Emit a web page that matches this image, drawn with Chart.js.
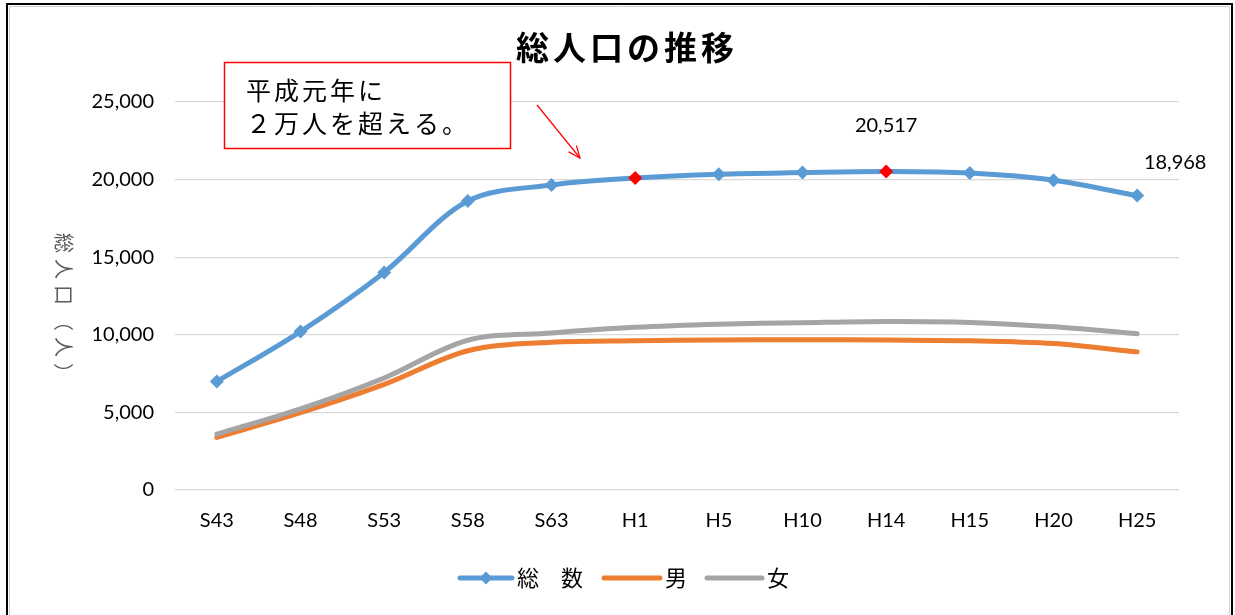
<!DOCTYPE html>
<html>
<head>
<meta charset="utf-8">
<script src="https://cdn.jsdelivr.net/npm/chart.js@4.4.1/dist/chart.umd.min.js"></script>
<style>
  html, body { margin: 0; padding: 0; background: #fff; }
  #wrap { position: relative; width: 1235px; height: 615px; }
  canvas { display: block; }
</style>
</head>
<body>
<div id="wrap"><canvas id="c" width="1235" height="615"></canvas></div>
<script>
// ---- data ----
const categories = ['S43','S48','S53','S58','S63','H1','H5','H10','H14','H15','H20','H25'];
const totalPop  = [6990, 10210, 14020, 18620, 19650, 20100, 20350, 20450, 20517, 20420, 19960, 18968];
const malePop   = [3390, 4980, 6800, 8970, 9520, 9620, 9670, 9680, 9660, 9620, 9440, 8900];
const femalePop = [3600, 5230, 7220, 9650, 10120, 10480, 10680, 10780, 10860, 10800, 10520, 10070];
const seriesNames = ['総　数', '男', '女'];
const yTicks = [0, 5000, 10000, 15000, 20000, 25000];
const highlightIdx = [5, 8];           // H1, H14 (red markers)
const labelIdx = [8, 11];              // labelled points
const titleText = '総人口の推移';
const yTitleText = '総人口（人）';
const noteLines = ['平成元年に', '２万人を超える。'];

const BLUE = '#5B9BD5', ORANGE = '#ED7D31', GRAY = '#A5A5A5', RED = '#FF0000';
const JP = '"Noto Sans CJK JP", "Noto Sans", sans-serif';
const NUM = 'Lato, "Noto Sans", sans-serif';

const fmt = v => v.toLocaleString('en-US');

const decor = {
  id: 'decor',
  afterDraw(chart) {
    const ctx = chart.ctx;
    const hasLS = ('letterSpacing' in ctx);
    ctx.save();
    // outer frame (left, top, right)
    ctx.strokeStyle = '#d0d0d0'; ctx.lineWidth = 1;
    ctx.beginPath();
    ctx.moveTo(9.5, 615); ctx.lineTo(9.5, 6.5); ctx.lineTo(1229.5, 6.5); ctx.lineTo(1229.5, 615);
    ctx.stroke();
    ctx.strokeStyle = '#000'; ctx.lineWidth = 2;
    ctx.beginPath();
    ctx.moveTo(7, 615); ctx.lineTo(7, 4); ctx.lineTo(1232, 4); ctx.lineTo(1232, 615);
    ctx.stroke();

    // title
    ctx.fillStyle = '#000';
    ctx.font = 'bold 33px ' + JP;
    ctx.textAlign = 'center'; ctx.textBaseline = 'middle';
    if (hasLS) ctx.letterSpacing = '4px';
    ctx.fillText(titleText, 627, 47);
    if (hasLS) ctx.letterSpacing = '0px';

    // y-axis title, rotated clockwise
    ctx.save();
    ctx.translate(64, 308);
    ctx.rotate(Math.PI / 2);
    ctx.fillStyle = '#595959';
    ctx.font = '20px ' + JP;
    ctx.textAlign = 'center'; ctx.textBaseline = 'middle';
    if (hasLS) ctx.letterSpacing = '6px';
    ctx.fillText(yTitleText, 3, 0);
    if (hasLS) ctx.letterSpacing = '0px';
    ctx.restore();

    // data labels
    const meta = chart.getDatasetMeta(0);
    ctx.fillStyle = '#000';
    ctx.font = '20px ' + NUM;
    ctx.textAlign = 'center'; ctx.textBaseline = 'middle';
    const offs = { 8: [0, -46], 11: [38, -33] };
    labelIdx.forEach(i => {
      const p = meta.data[i];
      const o = offs[i];
      ctx.fillText(fmt(totalPop[i]), p.x + o[0], p.y + o[1]);
    });

    // annotation box
    ctx.fillStyle = '#fff';
    ctx.fillRect(224, 62, 286, 86);
    ctx.strokeStyle = RED; ctx.lineWidth = 1.5;
    ctx.strokeRect(224.5, 62.5, 286, 86);
    ctx.fillStyle = '#000';
    ctx.font = '25px ' + JP;
    ctx.textAlign = 'left'; ctx.textBaseline = 'middle';
    if (hasLS) ctx.letterSpacing = '3px';
    ctx.fillText(noteLines[0], 246, 90);
    ctx.fillText(noteLines[1], 246, 123);
    if (hasLS) ctx.letterSpacing = '0px';

    // arrow
    const ax0 = 537, ay0 = 105, ax1 = 580, ay1 = 158;
    ctx.strokeStyle = RED; ctx.lineWidth = 1.2;
    ctx.beginPath(); ctx.moveTo(ax0, ay0); ctx.lineTo(ax1, ay1); ctx.stroke();
    const ang = Math.atan2(ay1 - ay0, ax1 - ax0);
    const hl = 13;
    ctx.beginPath();
    ctx.moveTo(ax1 - hl * Math.cos(ang - 0.4), ay1 - hl * Math.sin(ang - 0.4));
    ctx.lineTo(ax1, ay1);
    ctx.lineTo(ax1 - hl * Math.cos(ang + 0.4), ay1 - hl * Math.sin(ang + 0.4));
    ctx.stroke();

    // legend
    const ly = 578;
    const items = [
      { x0: 460, x1: 512, color: BLUE, marker: true, tx: 517, text: seriesNames[0] },
      { x0: 604, x1: 660, color: ORANGE, marker: false, tx: 665, text: seriesNames[1] },
      { x0: 707, x1: 762, color: GRAY, marker: false, tx: 767, text: seriesNames[2] }
    ];
    items.forEach(it => {
      ctx.strokeStyle = it.color; ctx.lineWidth = 5; ctx.lineCap = 'round';
      ctx.beginPath(); ctx.moveTo(it.x0, ly); ctx.lineTo(it.x1, ly); ctx.stroke();
      if (it.marker) {
        const cx = (it.x0 + it.x1) / 2, r = 6.5;
        ctx.fillStyle = it.color;
        ctx.beginPath();
        ctx.moveTo(cx, ly - r); ctx.lineTo(cx + r, ly); ctx.lineTo(cx, ly + r); ctx.lineTo(cx - r, ly);
        ctx.closePath(); ctx.fill();
      }
      ctx.fillStyle = '#000';
      ctx.font = '22px ' + JP;
      ctx.textAlign = 'left'; ctx.textBaseline = 'middle';
      ctx.fillText(it.text, it.tx, ly);
    });
    ctx.restore();
  }
};

const pointColors = categories.map((_, i) => highlightIdx.includes(i) ? RED : BLUE);

new Chart(document.getElementById('c'), {
  type: 'line',
  data: {
    labels: categories,
    datasets: [
      {
        label: seriesNames[0], data: totalPop, borderColor: BLUE, borderWidth: 5,
        pointStyle: 'rectRot', pointRadius: 7, pointBackgroundColor: pointColors,
        pointBorderColor: pointColors, pointBorderWidth: 0, tension: 0.33, order: 0
      },
      {
        label: seriesNames[1], data: malePop, borderColor: ORANGE, borderWidth: 5,
        pointRadius: 0, tension: 0.33, borderCapStyle: 'round', order: 2
      },
      {
        label: seriesNames[2], data: femalePop, borderColor: GRAY, borderWidth: 5,
        pointRadius: 0, tension: 0.33, borderCapStyle: 'round', order: 1
      }
    ]
  },
  options: {
    responsive: false,
    animation: false,
    devicePixelRatio: 1,
    layout: { padding: { left: 0, right: 56, top: 102, bottom: 0 } },
    plugins: { legend: { display: false }, title: { display: false }, tooltip: { enabled: false } },
    scales: {
      x: {
        offset: true,
        grid: { display: false, drawTicks: false },
        border: { display: false },
        ticks: { font: { family: NUM, size: 20 }, color: '#000', padding: 19, maxRotation: 0 },
        afterFit(s) { s.height = 125; }
      },
      y: {
        min: 0, max: 25000,
        afterBuildTicks(s) { s.ticks = yTicks.map(v => ({ value: v })); },
        grid: { color: '#D9D9D9', lineWidth: 1.3, drawTicks: false },
        border: { display: false },
        ticks: { font: { family: NUM, size: 20 }, color: '#000', padding: 21, callback: v => fmt(v) },
        afterFit(s) { s.width = 175; }
      }
    }
  },
  plugins: [decor]
});
</script>
</body>
</html>
